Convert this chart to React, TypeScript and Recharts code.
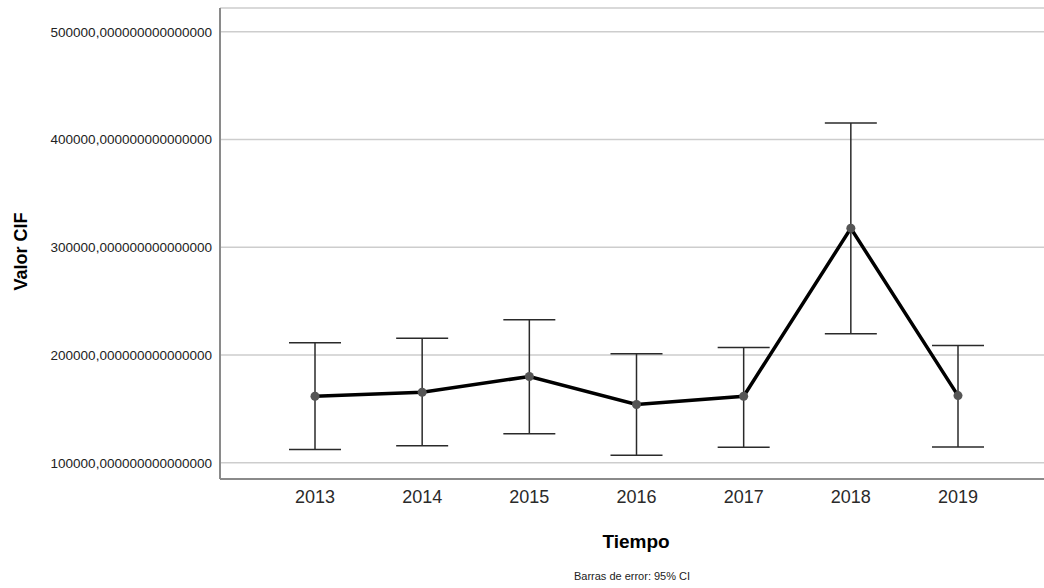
import React from "react"
import {
  LineChart,
  Line,
  XAxis,
  YAxis,
  CartesianGrid,
  ErrorBar,
  Label,
} from "recharts"

// Medias de Valor CIF por año, con IC 95%
const years = ["2013", "2014", "2015", "2016", "2017", "2018", "2019"]
const means = [161800, 165500, 180100, 154100, 161800, 317600, 162400]
const lower = [112300, 115800, 126900, 107100, 114500, 219800, 114800]
const upper = [211300, 215600, 232800, 201100, 207000, 415400, 208800]
const yTicks = [100000, 200000, 300000, 400000, 500000]

const data = years.map((year, i) => ({
  year,
  mean: means[i],
  err: [means[i] - lower[i], upper[i] - means[i]],
}))

const FONT = "'Liberation Sans', Arial, sans-serif"

const fmtTick = (v: number) => `${v},000000000000000`

function YTitle(props: any) {
  const vb = props.viewBox
  const cx = 21
  const cy = vb.y + vb.height / 2 + 8
  return (
    <text
      x={cx}
      y={cy}
      transform={`rotate(-90, ${cx}, ${cy})`}
      textAnchor="middle"
      dominantBaseline="central"
      fontFamily={FONT}
      fontSize={18}
      fontWeight="bold"
      fill="#000"
    >
      Valor CIF
    </text>
  )
}

function XTitle(props: any) {
  const vb = props.viewBox
  const cx = vb.x + vb.width / 2 + 4
  return (
    <g>
      <text
        x={cx}
        y={541}
        textAnchor="middle"
        dominantBaseline="central"
        fontFamily={FONT}
        fontSize={19}
        fontWeight="bold"
        fill="#000"
      >
        Tiempo
      </text>
      <text
        x={cx - 4}
        y={576}
        textAnchor="middle"
        dominantBaseline="central"
        fontFamily={FONT}
        fontSize={11}
        fill="#222"
      >
        Barras de error: 95% CI
      </text>
    </g>
  )
}

export default function App() {
  return (
    <div style={{ position: "absolute", left: 0, top: 0, background: "#fff" }}>
      <LineChart
        width={1044}
        height={588}
        data={data}
        margin={{ top: 8, right: 0, left: 0, bottom: 79 }}
      >
        <CartesianGrid horizontal vertical={false} stroke="#cdcdcd" strokeWidth={1.5} />
        <XAxis
          dataKey="year"
          padding={{ left: 95, right: 86 }}
          tickLine={false}
          axisLine={{ stroke: "#8a8a8a", strokeWidth: 2 }}
          tickMargin={5}
          tick={{ fontSize: 18, fill: "#2a2a2a", fontFamily: FONT }}
          interval={0}
        >
          <Label content={<XTitle />} />
        </XAxis>
        <YAxis
          width={220}
          domain={[85000, 522000]}
          ticks={yTicks}
          tickFormatter={fmtTick}
          tickLine={false}
          axisLine={{ stroke: "#8a8a8a", strokeWidth: 2 }}
          tick={{ fontSize: 13.5, fill: "#222", fontFamily: FONT }}
          allowDataOverflow
        >
          <Label content={<YTitle />} />
        </YAxis>
        <Line
          dataKey="mean"
          type="linear"
          stroke="#000"
          strokeWidth={3.5}
          dot={{ r: 4.5, fill: "#555", stroke: "none" }}
          activeDot={false}
          isAnimationActive={false}
        >
          <ErrorBar dataKey="err" direction="y" width={26} stroke="#2a2a2a" strokeWidth={1.5} isAnimationActive={false} />
        </Line>
      </LineChart>
    </div>
  )
}
